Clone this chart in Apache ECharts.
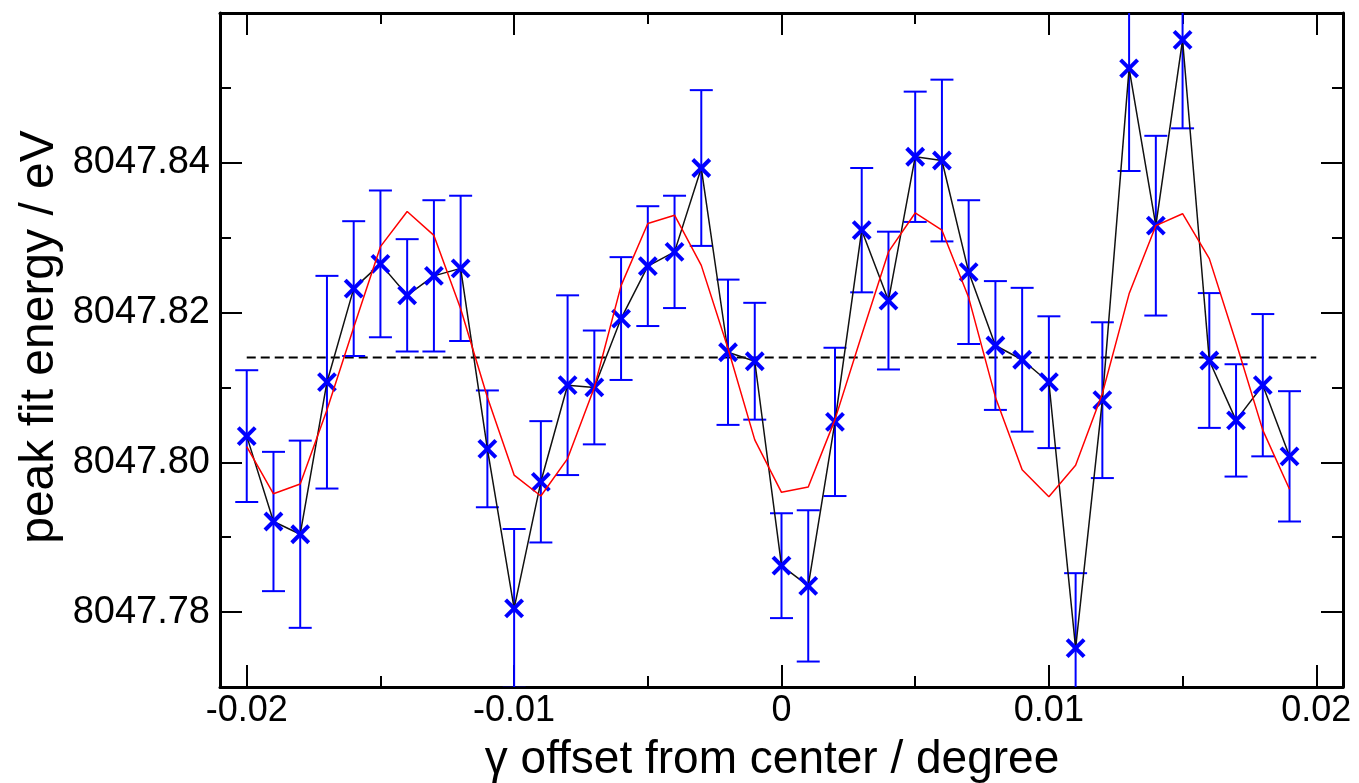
<!DOCTYPE html>
<html><head><meta charset="utf-8">
<script src="https://cdn.jsdelivr.net/npm/echarts@6/dist/echarts.min.js"></script>
<style>html,body{margin:0;padding:0;background:#fff}#c{width:1359px;height:783px}</style>
</head><body><div id="c"></div>
<script>
const xValues = [-0.020,-0.019,-0.018,-0.017,-0.016,-0.015,-0.014,-0.013,-0.012,-0.011,
  -0.010,-0.009,-0.008,-0.007,-0.006,-0.005,-0.004,-0.003,-0.002,-0.001,
  0.000,0.001,0.002,0.003,0.004,0.005,0.006,0.007,0.008,0.009,
  0.010,0.011,0.012,0.013,0.014,0.015,0.016,0.017,0.018,0.019];
const energy = [8047.8035,8047.7921,8047.7904,8047.8107,8047.8232,8047.8265,8047.8223,8047.8249,8047.8259,8047.8018,
  8047.7805,8047.7974,8047.8103,8047.8100,8047.8192,8047.8262,8047.8281,8047.8393,8047.8147,8047.8135,
  8047.7862,8047.7835,8047.8054,8047.8310,8047.8216,8047.8408,8047.8403,8047.8254,8047.8156,8047.8137,
  8047.8107,8047.7752,8047.8083,8047.8526,8047.8316,8047.8564,8047.8136,8047.8056,8047.8103,8047.8008];
const energyErr = [0.0088,0.0093,0.0125,0.0142,0.0090,0.0098,0.0075,0.0101,0.0097,0.0078,
  0.0106,0.0081,0.0120,0.0076,0.0082,0.0080,0.0075,0.0104,0.0097,0.0078,
  0.0070,0.0101,0.0099,0.0083,0.0092,0.0087,0.0108,0.0096,0.0086,0.0096,
  0.0088,0.0100,0.0104,0.0137,0.0120,0.0118,0.0090,0.0075,0.0095,0.0087];
const fitValues = [8047.8021,8047.7958,8047.7971,8047.8070,8047.8180,8047.8288,8047.8335,8047.8303,8047.8205,8047.8087,
  8047.7983,8047.7955,8047.8005,8047.8100,8047.8236,8047.8319,8047.8330,8047.8263,8047.8152,8047.8030,
  8047.7960,8047.7967,8047.8057,8047.8170,8047.8281,8047.8333,8047.8310,8047.8220,8047.8087,8047.7990,
  8047.7954,8047.7996,8047.8092,8047.8225,8047.8316,8047.8332,8047.8272,8047.8160,8047.8043,8047.7964];
const meanEnergy = 8047.814;
const meanRange = [-0.02, 0.02];
const xMajorTicks = [-0.02,-0.01,0,0.01,0.02];
const xMinorTicks = [-0.015,-0.005,0.005,0.015];
const yMajorTicks = [8047.78,8047.80,8047.82,8047.84];
const yMinorTicks = [8047.79,8047.81,8047.83,8047.85];
const xTickLabels = ['-0.02','-0.01','0','0.01','0.02'];
const yTickLabels = ['8047.78','8047.80','8047.82','8047.84'];
const xTitle = 'γ offset from center / degree';
const yTitle = 'peak fit energy / eV';

const FONT = "'Liberation Sans', Arial, Helvetica, sans-serif";
const chart = echarts.init(document.getElementById('c'), null, {renderer:'canvas'});

function xAx(pos, ticks, len, labels, line) {
  return {type:'value', position:pos, min:-0.021, max:0.021,
    splitLine:{show:false},
    axisLine:{show:line, onZero:false, lineStyle:{color:'#000', width:3}},
    axisTick:{show:true, inside:true, length:len, customValues:ticks, lineStyle:{color:'#000', width:2}},
    axisLabel:{show:!!labels, customValues:ticks, margin:6, fontSize:36, color:'#000', fontFamily:FONT,
      formatter:function(v){ const i = xMajorTicks.findIndex(t=>Math.abs(t-v)<1e-9); return i>=0 ? xTickLabels[i] : ''; }}
  };
}
function yAx(pos, ticks, len, labels, line) {
  return {type:'value', position:pos, min:8047.77, max:8047.86,
    splitLine:{show:false},
    axisLine:{show:line, onZero:false, lineStyle:{color:'#000', width:3}},
    axisTick:{show:true, inside:true, length:len, customValues:ticks, lineStyle:{color:'#000', width:2}},
    axisLabel:{show:!!labels, customValues:ticks, margin:10, fontSize:38, color:'#000', fontFamily:FONT,
      formatter:function(v){ const i = yMajorTicks.findIndex(t=>Math.abs(t-v)<1e-6); return i>=0 ? yTickLabels[i] : ''; }}
  };
}

const pts = xValues.map((x,i)=>[x, energy[i], energyErr[i]]);

const option = {
  animation:false,
  backgroundColor:'#fff',
  grid:{left:220, right:16, top:13, bottom:96, containLabel:false},
  xAxis:[ xAx('bottom', xMajorTicks, 22, true, true), xAx('bottom', xMinorTicks, 11, false, false),
          xAx('top', xMajorTicks, 22, false, true), xAx('top', xMinorTicks, 11, false, false) ],
  yAxis:[ yAx('left', yMajorTicks, 22, true, true), yAx('left', yMinorTicks, 11, false, false),
          yAx('right', yMajorTicks, 22, false, true), yAx('right', yMinorTicks, 11, false, false) ],
  series:[
    {type:'line', data:[[meanRange[0], meanEnergy],[meanRange[1], meanEnergy]], symbol:'none', silent:true, z:1,
      lineStyle:{color:'#000', width:2, type:[9,5]}},
    {type:'custom', data:pts, clip:true, silent:true, z:2,
      renderItem:function(params, api){
        const x=api.value(0), y=api.value(1), e=api.value(2);
        const c=api.coord([x,y]), hi=api.coord([x,y+e]), lo=api.coord([x,y-e]);
        const cap=11.5, st={stroke:'#0000ff', lineWidth:2};
        return {type:'group', children:[
          {type:'line', shape:{x1:c[0],y1:hi[1],x2:c[0],y2:lo[1]}, style:st},
          {type:'line', shape:{x1:c[0]-cap,y1:hi[1],x2:c[0]+cap,y2:hi[1]}, style:st},
          {type:'line', shape:{x1:c[0]-cap,y1:lo[1],x2:c[0]+cap,y2:lo[1]}, style:st}
        ]};
      }},
    {type:'line', data:pts.map(p=>[p[0],p[1]]), symbol:'none', silent:true, z:3,
      lineStyle:{color:'#111', width:1.5}},
    {type:'custom', data:pts, clip:true, silent:true, z:4,
      renderItem:function(params, api){
        const c=api.coord([api.value(0), api.value(1)]);
        const s=8.5, st={stroke:'#0000ff', lineWidth:4};
        return {type:'group', children:[
          {type:'line', shape:{x1:c[0]-s,y1:c[1]-s,x2:c[0]+s,y2:c[1]+s}, style:st},
          {type:'line', shape:{x1:c[0]-s,y1:c[1]+s,x2:c[0]+s,y2:c[1]-s}, style:st}
        ]};
      }},
    {type:'line', data:xValues.map((x,i)=>[x, fitValues[i]]), symbol:'none', silent:true, z:5,
      lineStyle:{color:'#ff0000', width:1.5}}
  ],
  graphic:[
    {type:'text', x:772, y:760, style:{text:xTitle, fontSize:46, fontFamily:FONT, fill:'#000', align:'center', verticalAlign:'middle'}},
    {type:'text', x:40, y:337, rotation:Math.PI/2, style:{text:yTitle, fontSize:48, fontFamily:FONT, fill:'#000', align:'center', verticalAlign:'middle'}}
  ]
};
chart.setOption(option);
</script></body></html>
